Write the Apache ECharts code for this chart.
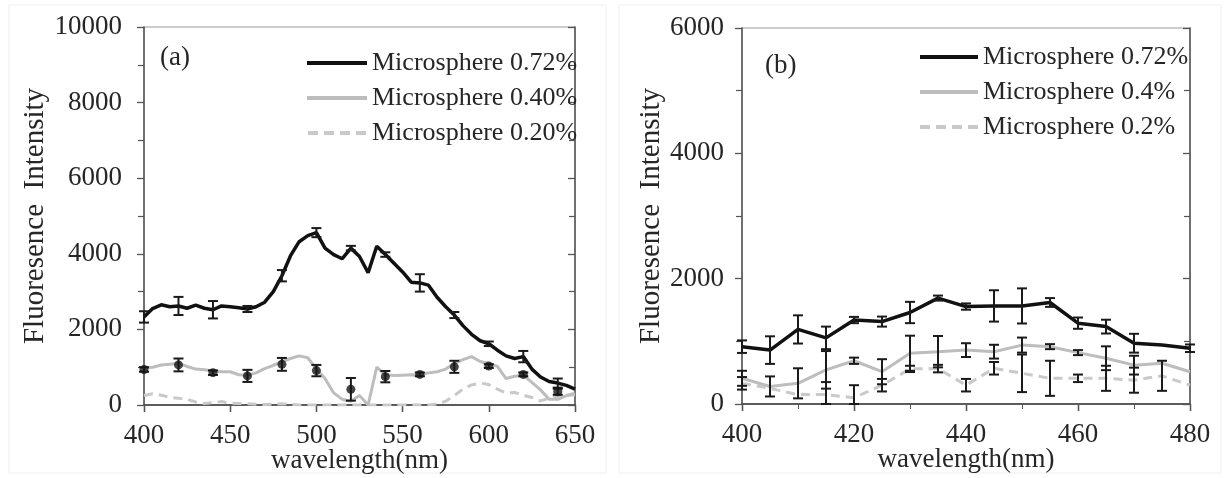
<!DOCTYPE html>
<html>
<head>
<meta charset="utf-8">
<script src="https://cdn.jsdelivr.net/npm/echarts@6/dist/echarts.min.js"></script>
<style>
  html, body { margin: 0; padding: 0; background: #ffffff; }
  #chart { width: 1227px; height: 478px; }
</style>
</head>
<body>
<div id="chart"></div>
<script>
// ---- Panel (a): full emission spectra, 400–650 nm ----
const wlA = [400,405,410,415,420,425,430,435,440,445,450,455,460,465,470,475,480,485,490,495,
             500,505,510,515,520,525,530,535,540,545,550,555,560,565,570,575,580,585,590,595,
             600,605,610,615,620,625,630,635,640,645,650];
const ms072A = [2330,2550,2650,2600,2620,2560,2640,2560,2520,2620,2600,2570,2540,2600,2720,3000,3420,3950,4320,4480,
                4560,4150,3980,3870,4150,3930,3500,4200,3980,3750,3520,3250,3230,3170,2850,2600,2380,2100,1870,1700,
                1620,1450,1300,1230,1280,950,740,620,580,520,420];
const ms040A = [970,1000,1060,1080,1100,1020,950,930,900,880,880,800,790,850,960,1050,1150,1230,1300,1250,
                950,700,320,150,100,250,0,1000,800,780,790,800,790,850,880,950,1100,1200,1280,1150,
                1100,1020,700,760,790,600,400,150,150,250,310];
const ms020A = [250,300,260,200,180,150,80,40,60,90,50,40,30,20,10,20,30,20,0,0,
                0,0,0,0,0,0,0,0,0,0,0,0,0,0,30,100,250,420,530,580,
                540,420,320,330,260,200,110,180,230,250,270];

// replicate measurements every 20 nm
const wlErrA = [400,420,440,460,480,500,520,540,560,580,600,620,640];
const ms072ErrA = [150,240,230,80,150,120,60,60,230,80,60,150,120];
const ms040MeanA = [940,1060,855,770,1075,910,415,750,810,1010,1030,810,350];
const ms040ErrA = [60,170,60,160,170,150,300,150,50,160,50,50,80];

// ---- Panel (b): 400–480 nm detail ----
const wlB = [400,405,410,415,420,425,430,435,440,445,450,455,460,465,470,475,480];
const ms072B = [915,860,1190,1055,1340,1315,1460,1690,1555,1565,1565,1620,1290,1235,970,940,890];
const ms072ErrB = [100,220,225,180,50,80,170,40,50,250,280,70,90,110,150,0,60];
const ms04B = [410,280,330,545,690,515,810,835,860,835,940,915,820,730,620,650,515];
const ms04ErrB = [120,160,240,300,50,200,280,250,110,110,120,40,40,190,150,0,0];
const ms02B = [330,250,150,150,100,300,560,565,300,570,490,410,410,410,380,450,300];
const ms02ErrB = [100,0,0,200,200,100,50,60,100,100,300,280,60,200,200,240,0];

const names = {
  a72: 'Microsphere 0.72%', a40: 'Microsphere 0.40%', a20: 'Microsphere 0.20%',
  b72: 'Microsphere 0.72%', b4: 'Microsphere 0.4%', b2: 'Microsphere 0.2%'
};

const FONT = 'Liberation Serif';
const TXT = '#262626';
const BLACK = '#111111', GREY = '#bdbdbd', GREY_DASH = '#c9c9c9';

// legend keys drawn as short line segments
const ICON_SOLID = 'path://M0 0H60V4H0Z';
const ICON_DASH = 'path://M0 0H10V4H0Z M16 0H26V4H16Z M32 0H42V4H32Z M48 0H58V4H48Z';

function pairs(xs, ys) { return xs.map((x, i) => [x, ys[i]]); }
function errRows(xs, ys, es) {
  const rows = [];
  xs.forEach((x, i) => { if (es[i] > 0) rows.push([x, Math.max(0, ys[i] - es[i]), ys[i] + es[i]]); });
  return rows;
}
function valueAt(xs, ys, x) { return ys[xs.indexOf(x)]; }

function errRender(params, api) {
  const x = api.value(0);
  const p1 = api.coord([x, api.value(1)]);
  const p2 = api.coord([x, api.value(2)]);
  const cap = 5;
  const st = { stroke: '#1a1a1a', lineWidth: 2 };
  return {
    type: 'group',
    children: [
      { type: 'line', shape: { x1: p1[0], y1: p1[1], x2: p2[0], y2: p2[1] }, style: st },
      { type: 'line', shape: { x1: p1[0] - cap, y1: p1[1], x2: p1[0] + cap, y2: p1[1] }, style: st },
      { type: 'line', shape: { x1: p2[0] - cap, y1: p2[1], x2: p2[0] + cap, y2: p2[1] }, style: st }
    ]
  };
}

const axisLineDark = { show: true, lineStyle: { color: '#555', width: 1.5 } };
const tickOut = { show: true, inside: false, length: 7, lineStyle: { color: '#555', width: 1.3 } };
const tickIn = { show: true, inside: true, length: 7, lineStyle: { color: '#555', width: 1.3 } };
const labelStyle = { fontFamily: FONT, fontSize: 27, color: TXT, formatter: v => String(v) };

function xAxes(grid, min, max, interval, minorSplit) {
  const base = {
    type: 'value', gridIndex: grid, min: min, max: max, interval: interval,
    splitLine: { show: false }, axisLine: axisLineDark
  };
  const minor = minorSplit
    ? { show: true, splitNumber: minorSplit, length: 5, lineStyle: { color: '#555' } }
    : { show: false };
  return [
    Object.assign({}, base, {
      axisTick: tickOut, minorTick: minor,
      axisLabel: Object.assign({ margin: 17 }, labelStyle),
      name: 'wavelength(nm)', nameLocation: 'middle', nameGap: 42, nameMoveOverlap: false,
      nameTextStyle: { fontFamily: FONT, fontSize: 27, color: TXT }
    }),
    Object.assign({}, base, { axisTick: tickIn, minorTick: minor, axisLabel: { show: false } })
  ];
}
function yAxes(grid, max, gap, margin) {
  const base = {
    type: 'value', gridIndex: grid, min: 0, max: max, interval: 2000,
    splitLine: { show: false }, axisLine: axisLineDark
  };
  const minor = { show: true, splitNumber: 2, length: 6, lineStyle: { color: '#555', width: 1.2 } };
  return [
    Object.assign({}, base, {
      axisTick: tickOut, minorTick: minor,
      axisLabel: Object.assign({ margin: margin }, labelStyle),
      name: 'Fluoresence  Intensity', nameLocation: 'middle', nameGap: gap, nameRotate: 90,
      nameTextStyle: { fontFamily: FONT, fontSize: 29, color: TXT }
    }),
    Object.assign({}, base, { axisTick: tickIn, minorTick: minor, axisLabel: { show: false } })
  ];
}

const legendText = { fontFamily: FONT, fontSize: 26, color: TXT, lineHeight: 28 };

const option = {
  animation: false,
  backgroundColor: '#ffffff',
  grid: [
    { left: 144, top: 27, width: 431, height: 378, outerBoundsMode: 'none', containLabel: false,
      show: true, borderColor: '#9a9a9a', borderWidth: 1.2 },
    { left: 742, top: 28, width: 448, height: 376, outerBoundsMode: 'none', containLabel: false,
      show: true, borderColor: '#9a9a9a', borderWidth: 1.2 }
  ],
  xAxis: [].concat(xAxes(0, 400, 650, 50, 0), xAxes(1, 400, 480, 20, 2)),
  yAxis: [].concat(yAxes(0, 10000, 94, 22), yAxes(1, 6000, 67, 18)),
  legend: [
    {
      left: 307, top: 49, padding: 0, orient: 'vertical', itemWidth: 60, itemHeight: 4, itemGap: 7,
      textStyle: legendText, selectedMode: false,
      data: [
        { name: names.a72, icon: ICON_SOLID },
        { name: names.a40, icon: ICON_SOLID },
        { name: names.a20, icon: ICON_DASH }
      ]
    },
    {
      left: 920, top: 43, padding: 0, orient: 'vertical', itemWidth: 58, itemHeight: 4, itemGap: 7,
      textStyle: legendText, selectedMode: false,
      data: [
        { name: names.b72, icon: ICON_SOLID },
        { name: names.b4, icon: ICON_SOLID },
        { name: names.b2, icon: ICON_DASH }
      ]
    }
  ],
  graphic: [
    { type: 'rect', shape: { x: 9, y: 5, width: 597, height: 468 }, style: { fill: 'none', stroke: '#efefef', lineWidth: 1 }, silent: true },
    { type: 'rect', shape: { x: 619, y: 5, width: 602, height: 468 }, style: { fill: 'none', stroke: '#efefef', lineWidth: 1 }, silent: true },
    { type: 'text', left: 160, top: 44, style: { text: '(a)', fontFamily: FONT, fontSize: 27, fill: TXT } },
    { type: 'text', left: 765, top: 52, style: { text: '(b)', fontFamily: FONT, fontSize: 27, fill: TXT } }
  ],
  series: [
    // panel (a)
    { name: names.a20, type: 'line', xAxisIndex: 0, yAxisIndex: 0, data: pairs(wlA, ms020A), symbol: 'none',
      lineStyle: { color: GREY_DASH, width: 3, type: [9, 6] }, itemStyle: { color: GREY_DASH }, z: 2 },
    { name: names.a40, type: 'line', xAxisIndex: 0, yAxisIndex: 0, data: pairs(wlA, ms040A), symbol: 'none',
      lineStyle: { color: GREY, width: 3 }, itemStyle: { color: GREY }, z: 3 },
    { name: names.a72, type: 'line', xAxisIndex: 0, yAxisIndex: 0, data: pairs(wlA, ms072A), symbol: 'none',
      lineStyle: { color: BLACK, width: 3.5 }, itemStyle: { color: BLACK }, z: 4 },
    { type: 'custom', xAxisIndex: 0, yAxisIndex: 0, renderItem: errRender, z: 5,
      data: errRows(wlErrA, wlErrA.map(w => valueAt(wlA, ms072A, w)), ms072ErrA) },
    { type: 'custom', xAxisIndex: 0, yAxisIndex: 0, renderItem: errRender, z: 5,
      data: errRows(wlErrA, ms040MeanA, ms040ErrA) },
    { type: 'scatter', xAxisIndex: 0, yAxisIndex: 0, data: pairs(wlErrA, ms040MeanA), symbolSize: 9,
      itemStyle: { color: '#151515' }, z: 6 },
    // panel (b)
    { name: names.b2, type: 'line', xAxisIndex: 2, yAxisIndex: 2, data: pairs(wlB, ms02B), symbol: 'none',
      lineStyle: { color: GREY_DASH, width: 3, type: [9, 6] }, itemStyle: { color: GREY_DASH }, z: 2 },
    { name: names.b4, type: 'line', xAxisIndex: 2, yAxisIndex: 2, data: pairs(wlB, ms04B), symbol: 'none',
      lineStyle: { color: GREY, width: 3 }, itemStyle: { color: GREY }, z: 3 },
    { type: 'line', xAxisIndex: 2, yAxisIndex: 2, data: pairs(wlB, ms072B), symbol: 'none',
      lineStyle: { color: BLACK, width: 3.5 }, z: 4 },
    { type: 'custom', xAxisIndex: 2, yAxisIndex: 2, renderItem: errRender, z: 5, data: errRows(wlB, ms02B, ms02ErrB) },
    { type: 'custom', xAxisIndex: 2, yAxisIndex: 2, renderItem: errRender, z: 5, data: errRows(wlB, ms04B, ms04ErrB) },
    { type: 'custom', xAxisIndex: 2, yAxisIndex: 2, renderItem: errRender, z: 5, data: errRows(wlB, ms072B, ms072ErrB) }
  ]
};

const chart = echarts.init(document.getElementById('chart'), null, { renderer: 'canvas' });
chart.setOption(option);
</script>
</body>
</html>
